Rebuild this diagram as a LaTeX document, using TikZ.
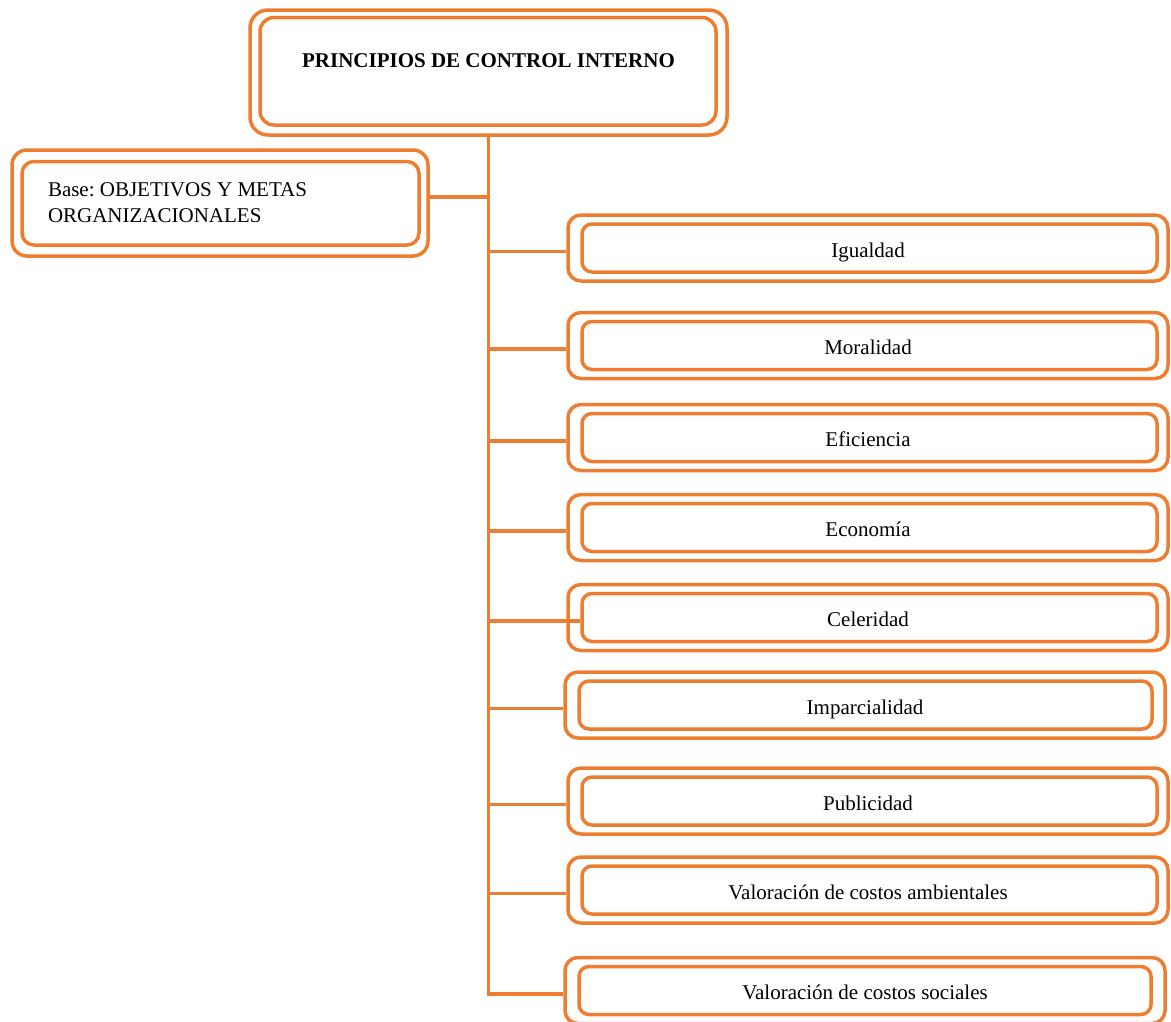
\documentclass[tikz,border=0pt]{standalone}
\usepackage{fontspec}
\setmainfont{Liberation Serif}
\definecolor{org}{HTML}{ED7D31}
\newcommand{\innerR}{10pt}
\tikzset{
  inr/.code={\renewcommand{\innerR}{#1}},
  dbox/.style n args={4}{draw=org, line width=3.5pt, rounded corners=13pt, inner sep=0pt,
    path picture={\draw[org, line width=3.5pt, rounded corners=\innerR]
      ([xshift=#1pt, yshift=-#2pt]path picture bounding box.north west) rectangle
      ([xshift=-#3pt, yshift=#4pt]path picture bounding box.south east);}},
  rbox/.style={dbox={14}{9}{#1}{9}, minimum width=600pt, minimum height=66pt,
    text height=22pt, text depth=4pt,
    font=\fontsize{21}{26}\selectfont, align=center},
  rbox/.default=11,
  conn/.style={draw=org, line width=3.5pt},
}
\begin{document}
\frenchspacing
\begin{tikzpicture}[x=1pt,y=-1pt]
\useasboundingbox (0,0) rectangle (1171,1021);
\clip (0,0) rectangle (1171,1021);

\node[dbox={10}{7.5}{11}{10}, rounded corners=18pt, inr=14pt, minimum width=477pt,
  minimum height=125pt, text height=57pt, text depth=68pt,
  font=\fontsize{21}{26}\selectfont\bfseries] (title) at (488.5,72.5) {PRINCIPIOS DE CONTROL INTERNO};

\node[dbox={10}{11.5}{9}{11}, rounded corners=15pt, inr=12pt, minimum width=416pt,
  minimum height=106pt, text width=344pt, align=flush left,
  font=\fontsize{21}{26}\selectfont\frenchspacing] (base) at (220,203) {Base: OBJETIVOS Y METAS\\ORGANIZACIONALES};

\node[rbox] (igu) at (868,248) {Igualdad};
\node[rbox] (mor) at (868,345.5) {Moralidad};
\node[rbox] (efi) at (868,437.5) {Eficiencia};
\node[rbox] (eco) at (868,527.5) {Economía};
\node[rbox] (cel) at (868,617.5) {Celeridad};
\node[rbox=13] (imp) at (865,705) {Imparcialidad};
\node[rbox] (pub) at (868,801) {Publicidad};
\node[rbox] (amb) at (868,890) {Valoración de costos ambientales};
\node[rbox=14] (soc) at (865,990.5) {Valoración de costos sociales};

% connectors
\path ([yshift=6pt]base.east) coordinate (base-c);
\draw[conn] (base-c) -- (title.south |- base-c);
\foreach \n in {igu,mor,efi,eco,imp,pub,amb}{
  \path ([yshift=-3.5pt]\n.west) coordinate (\n-c);
  \draw[conn] (\n-c) -- (title.south |- \n-c);
}
\path ([xshift=14pt,yshift=-3.5pt]cel.west) coordinate (cel-c);
\draw[conn] (cel-c) -- (title.south |- cel-c);
\path ([yshift=-3.5pt]soc.west) coordinate (soc-c);
\draw[conn, line join=miter] (title.south) -- (title.south |- soc-c) -- (soc-c);
\end{tikzpicture}
\end{document}
